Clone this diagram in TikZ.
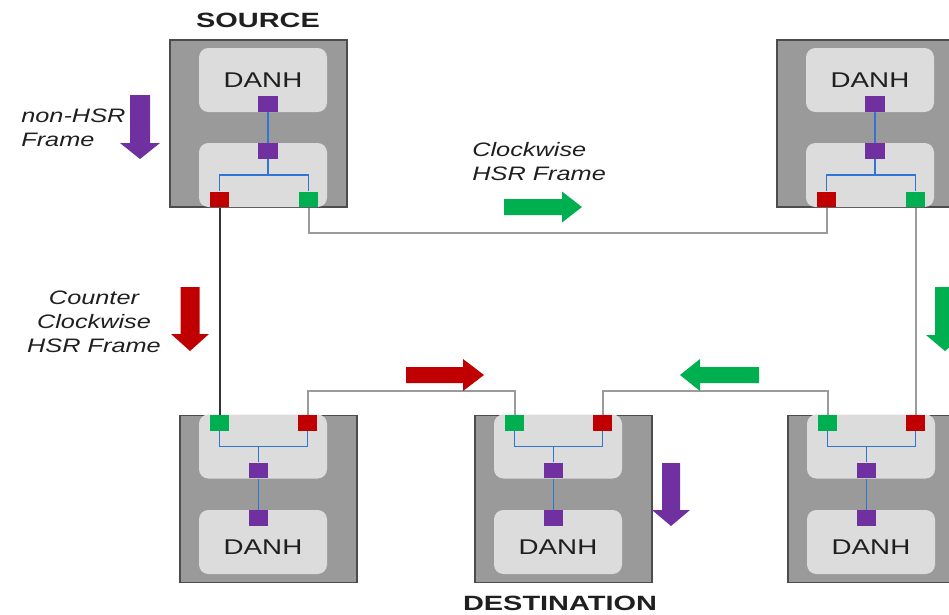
\documentclass[tikz,border=0pt]{standalone}
\usepackage{fontspec}
\setmainfont{Liberation Sans}
\definecolor{hsrR}{RGB}{192,0,0}
\definecolor{hsrG}{RGB}{0,176,80}
\definecolor{hsrP}{RGB}{112,48,160}
\definecolor{hsrB}{RGB}{47,117,214}
\definecolor{hsrBox}{RGB}{154,154,154}
\definecolor{hsrPan}{RGB}{220,220,220}
\definecolor{hsrLink}{RGB}{155,155,155}

\begin{document}
\begin{tikzpicture}[x=0.75pt,y=-0.75pt,
  dev/.style={draw=black!70,line width=0.8pt,fill=hsrBox,minimum width=132.75pt,minimum height=125.25pt,inner sep=0pt},
  panel/.style={fill=hsrPan,rounded corners=7pt,minimum width=96pt,minimum height=48pt,inner sep=0pt},
  port/.style={minimum width=14.4pt,minimum height=11.7pt,inner sep=0pt},
  bus/.style={hsrB,line width=0.9pt},
  link/.style={hsrLink,line width=1.5pt},
  txt/.style={xscale=1.3,transform shape,text=black!88,inner sep=0pt,font=\fontsize{16}{19}\selectfont},
  lbl/.style={txt,font=\fontsize{14.6}{18}\selectfont\itshape},
  title/.style={txt,xscale=1.4/1.3,font=\fontsize{15.5}{18}\selectfont\bfseries}]
\useasboundingbox (0,0) rectangle (949,614);
\clip (0,0) rectangle (949,614);
\foreach \L/\n in {170/src,777/nr}{
  \node[dev] (\n) at ({\L+88.5},123.5) {};
  \node[panel] (\n-h) at ({\L+93},80) {}; \node[panel] (\n-b) at ({\L+93},175) {};
  \node[txt] (\n-t) at (\n-h) {DANH};
  \node[port,fill=hsrP] (\n-p1) at ({\L+98},104) {}; \node[port,fill=hsrP] (\n-p2) at ({\L+98},151) {};
  \node[port,fill=hsrR] (\n-r) at ({\L+49.5},199.5) {}; \node[port,fill=hsrG] (\n-g) at ({\L+138.5},199.5) {};
  \draw[bus] (\n-p1) -- (\n-p2); \draw[bus] (\n-p2.south) -- ++(0,16) -| (\n-r.north); \draw[bus] (\n-p2.south) ++(0,16) -| (\n-g.north);
}
\foreach \L/\n in {180/nl,475/dst,788/nb}{
  \node[dev] (\n) at ({\L+88.5},499) {};
  \node[panel] (\n-b) at ({\L+83},446.5) {}; \node[panel] (\n-h) at ({\L+83},542) {};
  \node[txt] (\n-t) at ({\L+83},547.5) {DANH};
  \node[port,fill=hsrP] (\n-p2) at ({\L+78.5},470.5) {}; \node[port,fill=hsrP] (\n-p1) at ({\L+78.5},518) {};
  \node[port,fill=hsrG] (\n-g) at ({\L+39.5},423) {}; \node[port,fill=hsrR] (\n-r) at ({\L+127.5},423) {};
  \draw[bus] (\n-p1) -- (\n-p2); \draw[bus] (\n-p2.north) -- ++(0,-16) -| (\n-g.south); \draw[bus] (\n-p2.north) ++(0,-16) -| (\n-r.south);
}
\draw[link] (src-g.south) -- ++(0,25) -| (nr-r.south);
\draw[link] (nr-g.south) -- (nb-r.north);
\draw[link,black!80] (src-r.south) -- (nl-g.north);
\draw[link] (nl-r.north) -- ++(0,-24) -| (dst-g.north);
\draw[link] (dst-r.north) -- ++(0,-24) -| (nb-g.north);
\fill[hsrP] (130,95) -- (150,95) -- (150,143) -- (160,143) -- (140,159) -- (120,143) -- (130,143) -- cycle;
\fill[hsrR] (180.5,287) -- (199.5,287) -- (199.5,334) -- (209,334) -- (190,351) -- (171,334) -- (180.5,334) -- cycle;
\fill[hsrG] (935,287) -- (955,287) -- (955,335) -- (964,335) -- (945,351) -- (926,335) -- (935,335) -- cycle;
\fill[hsrP] (662,463) -- (680,463) -- (680,510) -- (690,510) -- (671,526) -- (652,510) -- (662,510) -- cycle;
\fill[hsrG] (504,199) -- (562,199) -- (562,191.5) -- (582,207) -- (562,222.5) -- (562,215) -- (504,215) -- cycle;
\fill[hsrR] (406,367) -- (463,367) -- (463,359) -- (484,375) -- (463,391) -- (463,383) -- (406,383) -- cycle;
\fill[hsrG] (759,367) -- (700,367) -- (700,359) -- (680,375) -- (700,391) -- (700,383) -- (759,383) -- cycle;
\node[title] (srcname) at (258,20) {SOURCE};
\node[title] (dstname) at (560,603) {DESTINATION};
\node[lbl,anchor=west,align=left] (nonhsr) at (21,127.5) {non-HSR\\Frame};
\node[lbl,anchor=west,align=left] (cwlbl) at (472,161.5) {Clockwise\\HSR Frame};
\node[lbl,align=center] (ccwlbl) at (94,322) {Counter\\Clockwise\\HSR Frame};
\end{tikzpicture}
\end{document}
